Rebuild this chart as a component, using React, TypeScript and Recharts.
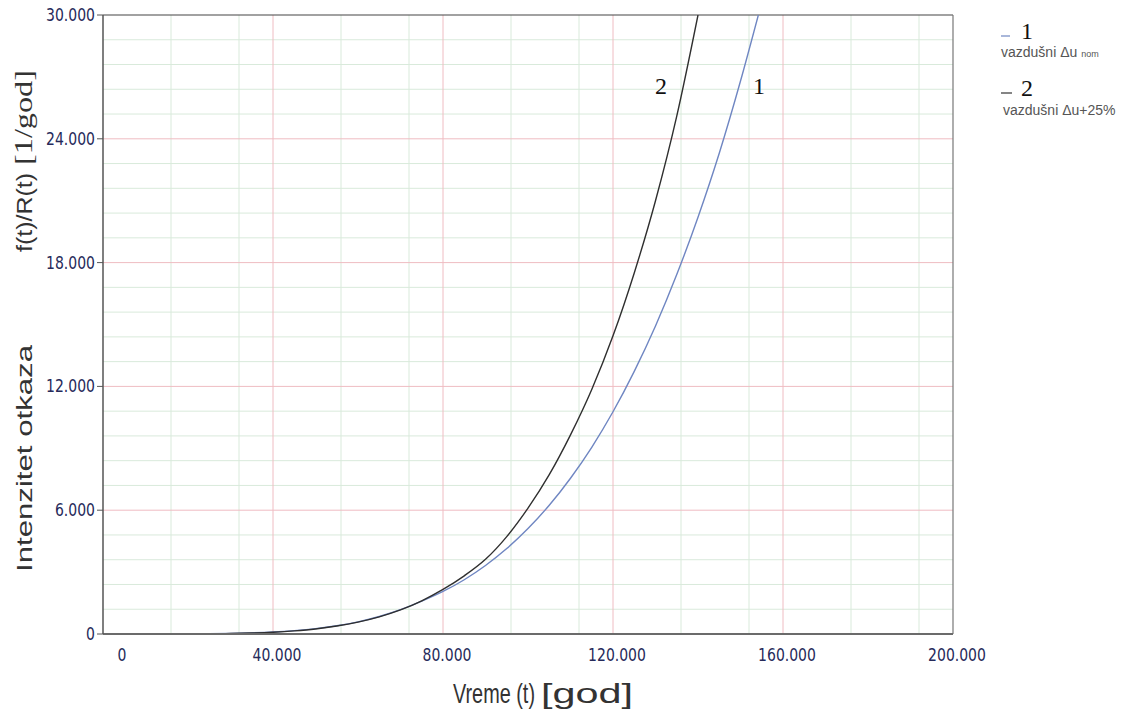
import React from "react"
import {
  LineChart,
  Line,
  XAxis,
  YAxis,
  CartesianGrid,
  ReferenceLine,
} from "recharts"

// vreme (t) [god]
const timesNom = [
  0, 5000, 10000, 15000, 20000, 25000, 30000, 35000, 40000, 45000, 50000, 55000, 60000,
  65000, 70000, 75000, 80000, 85000, 90000, 95000, 100000, 105000, 110000, 115000,
  120000, 125000, 130000, 135000, 140000, 145000, 150000, 154200,
]
// kriva 1 - vazdusni du nom
const intensityNom = [
  0, 0, 0, 1, 5, 12, 28, 55, 98, 165, 260, 400, 590, 850, 1180, 1590, 2060, 2630, 3320,
  4140, 5110, 6240, 7550, 9050, 10770, 12730, 14930, 17420, 20200, 23300, 26800, 30000,
]

const timesHigh = [
  0, 5000, 10000, 15000, 20000, 25000, 30000, 35000, 40000, 45000, 50000, 55000, 60000,
  65000, 70000, 75000, 80000, 85000, 90000, 95000, 100000, 105000, 110000, 115000,
  120000, 125000, 130000, 135000, 140000,
]
// kriva 2 - vazdusni du +25%
const intensityHigh = [
  0, 0, 0, 1, 4, 10, 24, 48, 88, 152, 245, 385, 575, 830, 1165, 1610, 2160, 2820, 3620,
  4720, 6100, 7720, 9650, 11850, 14450, 17500, 21000, 25100, 30000,
]

const xTicks = [0, 40000, 80000, 120000, 160000, 200000]
const yTicks = [0, 6000, 12000, 18000, 24000, 30000]
const xMinor = [8000, 16000, 24000, 32000, 48000, 56000, 64000, 72000, 88000, 96000, 104000, 112000, 128000, 136000, 144000, 152000, 168000, 176000, 184000, 192000]
const yMinor = [1200, 2400, 3600, 4800, 7200, 8400, 9600, 10800, 13200, 14400, 15600, 16800, 19200, 20400, 21600, 22800, 25200, 26400, 27600, 28800]

const nomData = timesNom.map((t, i) => ({ t, v: intensityNom[i] }))
const highData = timesHigh.map((t, i) => ({ t, v: intensityHigh[i] }))

const fmt = (n: number) => String(n).replace(/\B(?=(\d{3})+(?!\d))/g, ".")

const tickColor = "#262a5a"

const YTick = ({ x, y, payload }: any) => (
  <text
    transform={`translate(${x},${y + 6}) scale(1,1.3)`}
    textAnchor="end"
    fill={tickColor}
    fontFamily="DejaVu Sans"
    fontSize={14}
  >
    {fmt(payload.value)}
  </text>
)

const XTick = ({ x, y, payload }: any) => (
  <text
    transform={`translate(${x + (payload.value === 0 ? 19 : 4)},${y + 27}) scale(1,1.3)`}
    textAnchor="middle"
    fill={tickColor}
    fontFamily="DejaVu Sans"
    fontSize={14}
  >
    {fmt(payload.value)}
  </text>
)

export default function App() {
  return (
    <div style={{ position: "absolute", left: 0, top: 0, width: 1148, height: 715, background: "#fff" }}>
      <LineChart width={1148} height={715} margin={{ top: 15, right: 195, bottom: 51, left: 43 }}>
        <CartesianGrid
          stroke="#d9eadb"
          strokeWidth={1}
          verticalValues={xMinor}
          horizontalValues={yMinor}
        />
        <CartesianGrid
          stroke="#efbcc2"
          strokeWidth={1}
          verticalValues={xTicks.slice(1, -1)}
          horizontalValues={yTicks.slice(1, -1)}
        />
        <XAxis
          dataKey="t"
          type="number"
          domain={[0, 200000]}
          ticks={xTicks}
          allowDataOverflow
          height={30}
          tickSize={0}
          tickMargin={0}
          tickLine={false}
          axisLine={{ stroke: "#6b6b6b", strokeWidth: 2 }}
          tick={<XTick />}
        />
        <YAxis
          type="number"
          domain={[0, 30000]}
          ticks={yTicks}
          allowDataOverflow
          width={60}
          tickSize={6}
          tickLine={{ stroke: "#555" }}
          axisLine={{ stroke: "#555", strokeWidth: 1.5 }}
          tick={<YTick />}
        />
        <ReferenceLine y={30000} stroke="#444" strokeWidth={1.2} />
        <ReferenceLine x={200000} stroke="#777" strokeWidth={1.2} />
        <Line
          data={nomData}
          dataKey="v"
          type="monotone"
          stroke="#6f86c2"
          strokeWidth={1.4}
          dot={false}
          isAnimationActive={false}
        />
        <Line
          data={highData}
          dataKey="v"
          type="monotone"
          stroke="#2f2f2f"
          strokeWidth={1.4}
          dot={false}
          isAnimationActive={false}
        />
      </LineChart>
      <svg width={1148} height={715} style={{ position: "absolute", left: 0, top: 0, pointerEvents: "none" }}>
        {/* oznake krivih */}
        <text x={661} y={94} textAnchor="middle" fontFamily="Liberation Serif" fontSize={24} fill="#111">2</text>
        <text x={759} y={94} textAnchor="middle" fontFamily="Liberation Serif" fontSize={24} fill="#111">1</text>

        {/* legenda */}
        <line x1={1001} y1={36} x2={1010} y2={36} stroke="#6f86c2" strokeWidth={1.2} />
        <text x={1021} y={39} fontFamily="Liberation Serif" fontSize={24} fill="#111">1</text>
        <text x={1001} y={57} fontFamily="Liberation Sans" fontSize={14} fill="#555">
          vazdušni Δu <tspan fontSize={9}>nom</tspan>
        </text>
        <line x1={1001} y1={93} x2={1012} y2={93} stroke="#333" strokeWidth={1.2} />
        <text x={1021} y={96} fontFamily="Liberation Serif" fontSize={24} fill="#111">2</text>
        <text x={1003} y={115} fontFamily="Liberation Sans" fontSize={14} fill="#555">vazdušni Δu+25%</text>

        {/* naziv x ose */}
        <text transform="translate(453,703) scale(1,1.35)" fontFamily="Liberation Sans" fontSize={20} fill="#333" textLength={82} lengthAdjust="spacingAndGlyphs">
          Vreme (t)
        </text>
        <text transform="translate(541,703) scale(1,1.25)" fontFamily="Liberation Sans" fontSize={22} fill="#333" textLength={92} lengthAdjust="spacingAndGlyphs">
          [god]
        </text>

        {/* naziv y ose */}
        <text transform="translate(32,572) rotate(-90)" fontFamily="Liberation Sans" fontSize={22} fill="#333" textLength={227} lengthAdjust="spacingAndGlyphs">
          Intenzitet otkaza
        </text>
        <text transform="translate(32,252) rotate(-90)" fontFamily="Liberation Sans" fontSize={22} fill="#333" textLength={79} lengthAdjust="spacingAndGlyphs">
          f(t)/R(t)
        </text>
        <text transform="translate(32,165) rotate(-90)" fontFamily="Liberation Serif" fontSize={25} fill="#333" textLength={95} lengthAdjust="spacingAndGlyphs">
          [1/god]
        </text>
      </svg>
    </div>
  )
}
